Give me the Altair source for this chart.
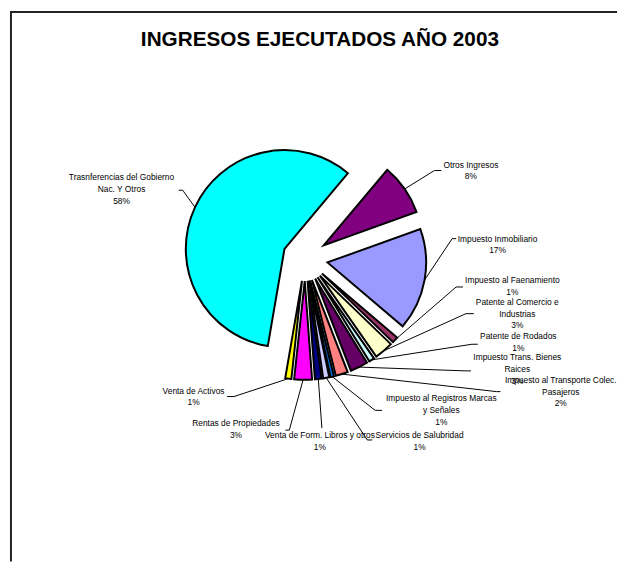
import math
import altair as alt
import pandas as pd

# ---------------- data ----------------
categories = [
    "Otros Ingresos",
    "Impuesto Inmobiliario",
    "Impuesto al Faenamiento",
    "Patente al Comercio e Industrias",
    "Patente de Rodados",
    "Impuesto Trans. Bienes Raices",
    "Impuesto al Transporte Colec. Pasajeros",
    "Impuesto al Registros Marcas y Señales",
    "Servicios de Salubridad",
    "Venta de Form. Libros y otros",
    "Rentas de Propiedades",
    "Venta de Activos",
    "Trasnferencias del Gobierno Nac. Y Otros",
]
# label text as wrapped in the original
label_text = [
    "Otros Ingresos",
    "Impuesto Inmobiliario",
    "Impuesto al Faenamiento",
    "Patente al Comercio e\nIndustrias",
    "Patente de Rodados",
    "Impuesto Trans. Bienes\nRaices",
    "Impuesto al Transporte Colec.\nPasajeros",
    "Impuesto al Registros Marcas\ny Señales",
    "Servicios de Salubridad",
    "Venta de Form. Libros y otros",
    "Rentas de Propiedades",
    "Venta de Activos",
    "Trasnferencias del Gobierno\nNac. Y Otros",
]
values = [8.4, 16.7, 1.0, 3.1, 0.9, 2.9, 2.0, 0.6, 1.0, 1.1, 2.9, 1.0, 58.4]
colors = ["#800080", "#9999FF", "#993366", "#FFFFCC", "#CCFFFF", "#660066",
          "#FF8080", "#0066CC", "#CCCCFF", "#000080", "#FF00FF", "#FFFF00",
          "#00FFFF"]
title_text = "INGRESOS EJECUTADOS AÑO 2003"

# ---------------- layout (page pixels) ----------------
OFF = 8
CX, CY = 309 - OFF, 258 - OFF
R = 100
D = 23
START = math.radians(40)

label_x = [477, 504, 519, 524, 525, 524, 568, 447, 425, 324, 239, 196, 123]
label_y = [166, 241, 283, 305, 340, 361, 384, 403, 440, 440, 428, 395, 179]
elbow_x = [440, 458, 462, 472, 478, 472, 503, 380, 372, 326, 293, 237, 185]
elbow_y = [169, 238, 287, 314, 345, 372, 393, 412, 442, 430, 432, 398, 189]
end_x = [447, 462, 469, 480, 484, 477, 507, 387, 377, 326, 289, 230, 181]

df = pd.DataFrame({
    "cat": categories,
    "label": label_text,
    "value": values,
    "color": colors,
    "order": list(range(len(categories))),
    "tx": [v - OFF for v in label_x],
    "ty": [v - OFF for v in label_y],
    "ex": [v - OFF for v in elbow_x],
    "ey": [v - OFF for v in elbow_y],
    "ex2": [v - OFF for v in end_x],
})

base = (
    alt.Chart(df)
    .transform_joinaggregate(total="sum(value)")
    .transform_window(cum="sum(value)", sort=[alt.SortField("order")], frame=[None, 0])
    .transform_calculate(f0="(datum.cum - datum.value) / datum.total")
    .transform_calculate(f1="datum.cum / datum.total")
    .transform_calculate(ang=f"{START} + PI * (datum.f0 + datum.f1)")
    .transform_calculate(px=f"{CX} + {D} * sin(datum.ang)")
    .transform_calculate(py=f"{CY} - {D} * cos(datum.ang)")
    .transform_calculate(ax=f"{CX} + {R + D} * sin(datum.ang)")
    .transform_calculate(ay=f"{CY} - {R + D} * cos(datum.ang)")
    .transform_calculate(txt="datum.label + '\\n' + round(datum.value / datum.total * 100) + '%'")
)

arcs = base.mark_arc(outerRadius=R, stroke="black", strokeWidth=2).encode(
    x=alt.X("px:Q", scale=None),
    y=alt.Y("py:Q", scale=None),
    theta=alt.Theta("f0:Q", stack=None,
                    scale=alt.Scale(domain=[0, 1], range=[START, START + 2 * math.pi])),
    theta2="f1:Q",
    color=alt.Color("color:N", scale=None),
)

lead1 = base.mark_rule(color="black", strokeWidth=1).encode(
    x=alt.X("ax:Q", scale=None), y=alt.Y("ay:Q", scale=None),
    x2="ex:Q", y2="ey:Q",
)
lead2 = base.mark_rule(color="black", strokeWidth=1).encode(
    x=alt.X("ex:Q", scale=None), y=alt.Y("ey:Q", scale=None),
    x2="ex2:Q", y2="ey:Q",
)

labels = base.mark_text(
    font="Liberation Sans", fontSize=8.5, lineBreak="\n", lineHeight=12,
    align="center", baseline="alphabetic", color="black",
).encode(
    x=alt.X("tx:Q", scale=None), y=alt.Y("ty:Q", scale=None), text="txt:N",
)

title = alt.Chart(pd.DataFrame({"t": [title_text]})).mark_text(
    font="Liberation Sans", fontSize=21, fontWeight="bold",
    align="center", baseline="alphabetic", color="black",
).encode(text="t:N", x=alt.value(324 - OFF), y=alt.value(43 - OFF))

frame_top = alt.Chart(pd.DataFrame({"a": [0]})).mark_rule(color="#222", strokeWidth=2).encode(
    x=alt.value(2), x2=alt.value(617), y=alt.value(0.5))
frame_left = alt.Chart(pd.DataFrame({"a": [0]})).mark_rule(color="#222", strokeWidth=2).encode(
    x=alt.value(3), y=alt.value(0), y2=alt.value(557))

chart = (
    alt.layer(frame_top, frame_left, lead1, lead2, arcs, labels, title)
    .properties(width=617, height=557, autosize="none", padding=0)
    .configure_view(stroke=None)
)

chart.save("out.html", embed_options={"renderer": "svg", "actions": False})
